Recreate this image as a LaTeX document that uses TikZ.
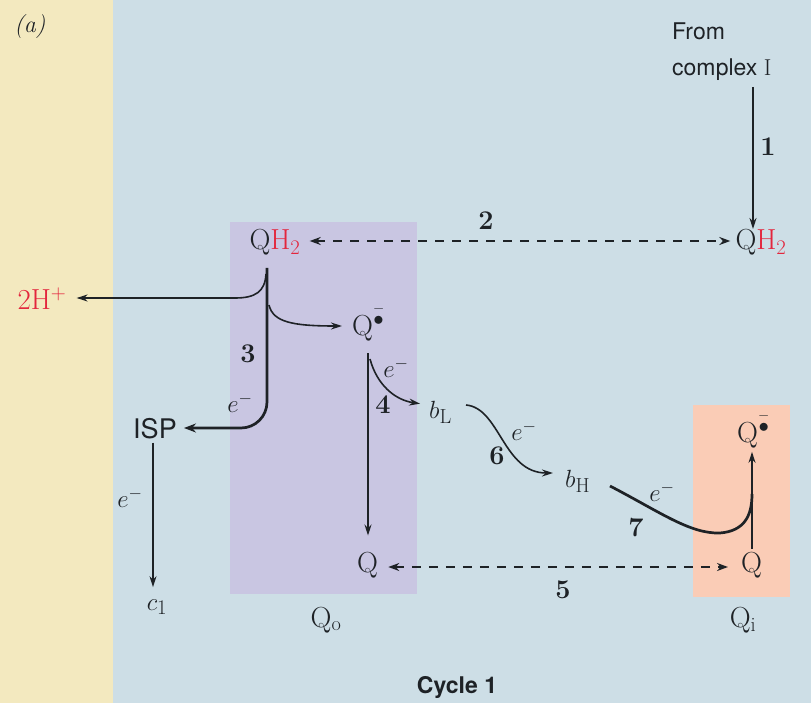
\documentclass[tikz,border=0pt]{standalone}
\usepackage{amsmath}
\usepackage{fontspec}
\newfontfamily\sansf{TeX Gyre Heros}
\usetikzlibrary{arrows.meta,calc}
\definecolor{yellowbg}{HTML}{F3E9BF}
\definecolor{bluebg}{HTML}{CDDEE6}
\definecolor{purplebox}{HTML}{C9C6E2}
\definecolor{salmonbox}{HTML}{FACCB6}
\definecolor{hred}{HTML}{E3263D}
\definecolor{ink}{HTML}{1E2226}
\newcommand{\qrad}{Q$^{\overset{-}{\bullet}}$}
\begin{document}
\begin{tikzpicture}[x=1pt,y=-1pt,
  lab/.style={font=\fontsize{29}{32}\selectfont, text=ink, inner sep=0pt},
  sanslab/.style={font=\sansf\fontsize{23}{36}\selectfont, text=ink, inner sep=0pt},
  num/.style={font=\bfseries\fontsize{27}{30}\selectfont, text=ink, inner sep=0pt},
  elab/.style={font=\fontsize{26}{28}\selectfont, text=ink, inner sep=0pt},
  arr/.style={draw=ink, line width=1.6pt, -{Stealth[length=11pt,width=7pt]}},
  tarr/.style={draw=ink, line width=2.7pt, -{Stealth[length=12pt,width=9pt]}},
  dasharr/.style={draw=ink, line width=2.3pt, dash pattern=on 9pt off 8pt, {Stealth[length=11pt,width=8pt]}-{Stealth[length=11pt,width=8pt]}}
]
\useasboundingbox (0,0) rectangle (811,703);
\fill[bluebg] (0,0) rectangle (811,703);
\fill[yellowbg] (0,0) rectangle (113,703);
\fill[purplebox] (230,222) rectangle (417,594);
\fill[salmonbox] (693,405) rectangle (790,597);

\node[lab, font=\itshape\fontsize{24}{28}\selectfont] (a) at (30,27) {(a)};
\node[sanslab, align=left, anchor=north west] (from) at (672,23) {From\\complex {\rmfamily I}};

\node[lab, anchor=base] (qh2r) at (761,250) {Q\textcolor{hred}{H$_2$}};
\node[lab, anchor=base] (qh2l) at (275,250) {Q\textcolor{hred}{H$_2$}};
\node[lab, text=hred, anchor=base] (hp) at (42,309) {2H$^{+}$};
\node[lab, anchor=base west] (qrad) at (352,335) {\qrad};
\node[lab, anchor=base west] (bl) at (429,418) {$b_{\mathrm{L}}$};
\node[lab, anchor=base west] (bh) at (565,487) {$b_{\mathrm{H}}$};
\node[lab, anchor=base west] (qradi) at (737,442) {\qrad};
\node[lab, anchor=base west] (qo) at (357,572) {Q};
\node[lab, anchor=base west] (qi) at (741,572) {Q};
\node[sanslab, font=\sansf\fontsize{27}{30}\selectfont, anchor=base] (isp) at (155,438) {ISP};
\node[lab, anchor=base] (c1) at (157,610) {$c_1$};
\node[lab, anchor=base] (qolab) at (326,627) {Q$_{\mathrm{o}}$};
\node[lab, anchor=base] (qilab) at (743,627) {Q$_{\mathrm{i}}$};
\node[sanslab, font=\sansf\bfseries\fontsize{23}{26}\selectfont, anchor=base] (cyc) at (457,693) {Cycle 1};

% numbers and e- labels
\node[num] (n1) at (768,147) {1};
\node[num] (n2) at (486,221) {2};
\node[num] (n3) at (248,354) {3};
\node[num] (n4) at (383,405) {4};
\node[num] (n5) at (563,590) {5};
\node[num] (n6) at (497,456) {6};
\node[num] (n7) at (636,528) {7};
\node[elab] (e3) at (240,403) {$e^{-}$};
\node[elab] (e4) at (396,368) {$e^{-}$};
\node[elab] (e6) at (524,431) {$e^{-}$};
\node[elab] (e7) at (662,492) {$e^{-}$};
\node[elab] (eisp) at (130,498) {$e^{-}$};

% step 1
\coordinate (s1) at (753,87);
\draw[arr] (s1) -- (753,229);
% step 2
\draw[dasharr, shorten <=9pt, shorten >=5pt] (qh2l.east |- 0,241) -- (qh2r.west |- 0,241);
% QH2 branch points
\coordinate (j0) at (267,268);
\coordinate (jh) at (266,274);
\coordinate (jq) at (269,305);
% 2H+
\draw[arr, shorten >=10pt] (jh) .. controls (265,292) and (255,298) .. (235,298) -- (hp.east |- 0,298);
% step 3
\draw[tarr, rounded corners=26pt, shorten >=7pt] (j0) -- (267,428) -- (isp.east |- 0,428);
% to Q radical
\draw[arr, shorten >=10pt] (jq) .. controls (273,322) and (292,326) .. (qrad.west |- 0,326);
% step 4 vertical
\coordinate (q4a) at (368,353);
\coordinate (q4b) at (370,359);
\draw[arr, shorten >=16pt] (q4a) -- (qo.north -| 368,0);
\draw[arr, shorten >=9pt] (q4b) .. controls (377,385) and (395,400) .. (bl.west |- 0,405);
% step 6
\coordinate (b6) at (466,405);
\draw[arr, shorten >=12pt] (b6) .. controls (500,408) and (503,473) .. (bh.west |- 0,473);
% step 7
\coordinate (b7) at (610,486);
\draw[draw=ink, line width=2.7pt] (b7) .. controls (660,512) and (690,534) .. (720,533) .. controls (745,531) and (752,515) .. (752,494);
\draw[arr, shorten <=3pt, shorten >=4pt] (qi.north -| 752,0) -- (qradi.south -| 752,0);
% step 5
\draw[dasharr, shorten <=10pt, shorten >=13pt] (qo.east |- 0,567) -- (qi.west |- 0,567);
% ISP -> c1
\draw[arr, shorten <=4pt, shorten >=12pt] (isp.south -| 153,0) -- (c1.north -| 153,0);
\end{tikzpicture}
\end{document}
